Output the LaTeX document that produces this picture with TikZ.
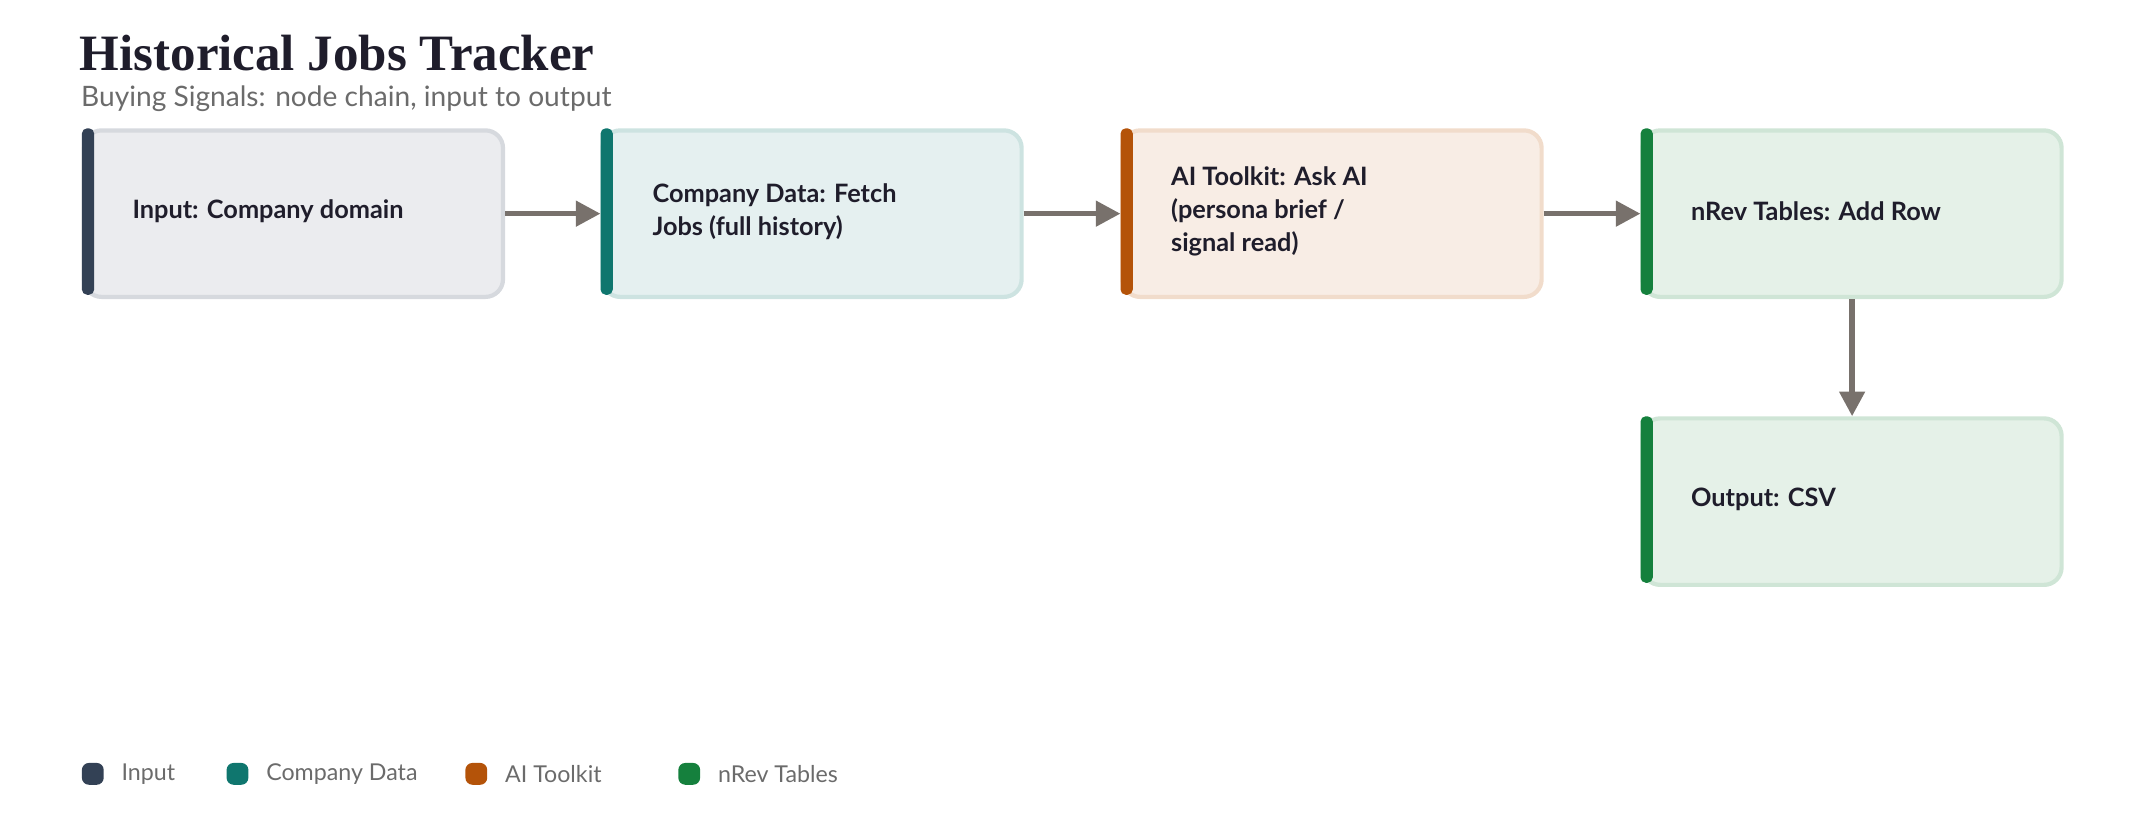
\documentclass[tikz,border=0pt]{standalone}
\usepackage{fontspec}
\setmainfont{Lato}
\newfontfamily\titlefont{Liberation Serif}
\usetikzlibrary{arrows.meta}
\definecolor{cIn}{HTML}{334155}\definecolor{fIn}{HTML}{EBECEF}\definecolor{dIn}{HTML}{D6D9DE}
\definecolor{cCo}{HTML}{0F766E}\definecolor{fCo}{HTML}{E5F0F0}\definecolor{dCo}{HTML}{CDE3E1}
\definecolor{cAI}{HTML}{B45309}\definecolor{fAI}{HTML}{F8EDE5}\definecolor{dAI}{HTML}{F1DCCB}
\definecolor{cNr}{HTML}{15803D}\definecolor{fNr}{HTML}{E5F1E8}\definecolor{dNr}{HTML}{CFE5D6}
\definecolor{arr}{HTML}{78716C}\definecolor{ink}{HTML}{1F1D2B}\definecolor{sub}{HTML}{6B6B6B}
\begin{document}
\begin{tikzpicture}[x=0.013648cm,y=-0.013648cm,
 box/.style={draw=#1,line width=1.2pt,rounded corners=5pt,minimum width=307*0.013648cm,minimum height=122*0.013648cm,anchor=north west,inner sep=0pt},
 lbl/.style={anchor=west,align=left,font=\fontsize{7.2}{9.4}\selectfont\bfseries,text=ink},
 ar/.style={draw=arr,line width=1.6pt,-{Triangle[length=7pt,width=7pt]}},
 leg/.style={anchor=west,font=\fontsize{6.6}{8}\selectfont,text=sub}]
\useasboundingbox (0,0) rectangle (1568,604);
\node[anchor=base west,inner sep=0,font=\titlefont\fontsize{14.5}{16}\selectfont\bfseries,text=ink] (title) at (58,52) {Historical Jobs Tracker};
\node[anchor=base west,inner sep=0,font=\fontsize{8}{10}\selectfont,text=sub] (subt) at (59,78) {Buying Signals: node chain, input to output};
\newcommand{\mybox}[6]{%
 \node[box=#4,fill=#5] (#1) at (#2,#3) {};
 \fill[#6,rounded corners=1.5pt] (#2,#3) rectangle ++(9,122);
}
\mybox{b1}{60}{94}{dIn}{fIn}{cIn}
\mybox{b2}{440}{94}{dCo}{fCo}{cCo}
\mybox{b3}{821}{94}{dAI}{fAI}{cAI}
\mybox{b4}{1202}{94}{dNr}{fNr}{cNr}
\mybox{b5}{1202}{305}{dNr}{fNr}{cNr}
\node[lbl] (t1) at (88,155) {Input: Company domain};
\node[lbl] (t2) at (469,155) {Company Data: Fetch\\Jobs (full history)};
\node[lbl] (t3) at (849,155) {AI Toolkit: Ask AI\\(persona brief /\\signal read)};
\node[lbl] (t4) at (1230,155) {nRev Tables: Add Row};
\node[lbl] (t5) at (1230,366) {Output: CSV};
\draw[ar] (b1.east) -- (b2.west);
\draw[ar] (b2.east) -- (b3.west);
\draw[ar] (b3.east) -- (b4.west);
\draw[ar] (b4.south) -- (b5.north);
\foreach \x/\c/\t/\n in {60/cIn/Input/l1,166/cCo/Company Data/l2,341/cAI/AI Toolkit/l3,497/cNr/nRev Tables/Output/l4}{
 \fill[\c,rounded corners=2pt] (\x,559) rectangle ++(16,16);
 \node[leg] (\n) at (\x+20,567) {\t};
}
\end{tikzpicture}
\end{document}
